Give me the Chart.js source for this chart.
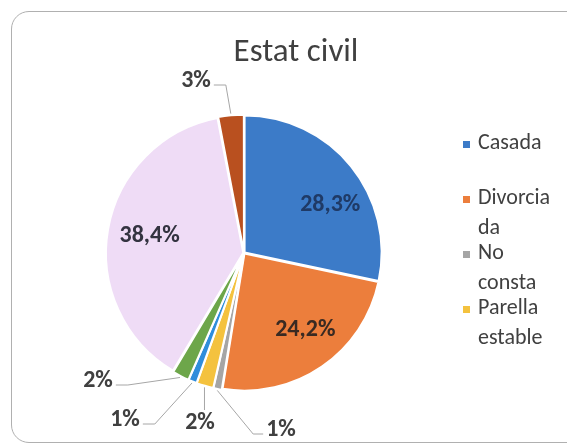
<!DOCTYPE html>
<html>
<head>
<meta charset="utf-8">
<title>Estat civil</title>
<script src="https://cdn.jsdelivr.net/npm/chart.js@4.4.1/dist/chart.umd.min.js"></script>
<style>
    html, body { margin: 0; padding: 0; background: #fff; }
    body { width: 567px; height: 447px; position: relative; overflow: hidden; font-family: Carlito, Calibri, Lato, sans-serif; color: #404040; }
    #frame { position: absolute; left: 11px; top: 11px; width: 580px; height: 432px; border: 1.5px solid #b0b0b0; border-radius: 18px; box-sizing: border-box; }
    #chart { position: absolute; left: 0; top: 0; }
    #title { position: absolute; left: 196px; width: 200px; top: 31px; text-align: center; font-size: 33px; line-height: 38px; }
    #legend { position: absolute; left: 460px; top: 127px; width: 105px; }
    .item { position: relative; height: 55px; padding-left: 18px; }
    .item span.txt { display: block; width: 80px; font-size: 22px; line-height: 30px; overflow-wrap: anywhere; }
    .item i { position: absolute; left: 3px; top: 14px; width: 7px; height: 7px; }
</style>
</head>
<body>
<div id="frame"></div>
<canvas id="chart" width="567" height="447"></canvas>
<div id="title">Estat civil</div>
<div id="legend"></div>
<script>
// Estat civil - pie
const categories = ['Casada', 'Divorciada', 'No consta', 'Parella estable', 'Separada', 'Separada de fet', 'Soltera', 'Vídua'];
const values = [28.3, 24.2, 1, 2, 1, 2, 38.4, 3];
const colors = ['#3c7bc8', '#ec7e3c', '#a5a5a5', '#f4c23e', '#2f8ddb', '#6da64a', '#efdcf6', '#b9501f'];
const legendShown = 4; // legend box is cut after 4 entries

// label placement: inside ones follow the slice (radius share, angle nudge in deg), outside ones have a spot
const labelSpots = [
    { r: 0.72, turn: 10 },
    { r: 0.72, turn: -4 },
    { x: 281, y: 430 },
    { x: 200, y: 423 },
    { x: 125, y: 420 },
    { x: 98, y: 381 },
    { r: 0.7, turn: 0 },
    { x: 196, y: 81 }
];
const insideColors = ['#1f3a66', '#3a2a22', '#333340'];

function pct(v) {
    return Number.isInteger(v) ? v + '%' : v.toFixed(1).replace('.', ',') + '%';
}

const sliceLabels = {
    id: 'sliceLabels',
    afterDatasetsDraw(chart) {
        const ctx = chart.ctx;
        const meta = chart.getDatasetMeta(0);
        let inside = 0;
        ctx.save();
        ctx.font = 'bold 24px Carlito, Calibri, Lato, sans-serif';
        ctx.textAlign = 'center';
        ctx.textBaseline = 'middle';
        meta.data.forEach((arc, i) => {
            const p = arc.getProps(['x', 'y', 'startAngle', 'endAngle', 'outerRadius'], true);
            const mid = (p.startAngle + p.endAngle) / 2;
            const off = arc.options.offset || 0;
            const txt = pct(values[i]);
            const spot = labelSpots[i];
            if (spot.r) {
                const r = p.outerRadius * spot.r;
                const a = mid + spot.turn * Math.PI / 180;
                ctx.fillStyle = insideColors[inside++ % insideColors.length];
                ctx.fillText(txt, p.x + Math.cos(a) * r, p.y + Math.sin(a) * r);
                return;
            }
            const ax = p.x + Math.cos(mid) * (p.outerRadius + off);
            const ay = p.y + Math.sin(mid) * (p.outerRadius + off);
            const w = ctx.measureText(txt).width;
            const left = spot.x - w / 2 - 3, right = spot.x + w / 2 + 3;
            ctx.strokeStyle = '#a6a6a6';
            ctx.lineWidth = 1;
            ctx.beginPath();
            if (ax < left) {
                ctx.moveTo(left, spot.y + 4);
                ctx.lineTo(left - 10, spot.y + 4);
            } else if (ax > right) {
                ctx.moveTo(right, spot.y + 4);
                ctx.lineTo(right + 12, spot.y + 4);
            } else {
                ctx.moveTo(ax, spot.y - 13);
            }
            ctx.lineTo(ax, ay);
            ctx.stroke();
            ctx.fillStyle = '#404040';
            ctx.fillText(txt, spot.x, spot.y);
        });
        ctx.restore();
    }
};

new Chart(document.getElementById('chart').getContext('2d'), {
    type: 'pie',
    data: {
        labels: categories,
        datasets: [{ data: values, backgroundColor: colors, borderColor: '#ffffff', borderWidth: 2, offset: 3 }]
    },
    options: {
        responsive: false,
        animation: false,
        radius: 137,
        layout: { padding: { left: 94, right: 173, top: 103, bottom: 44 } },
        plugins: { legend: { display: false }, title: { display: false }, tooltip: { enabled: false } }
    },
    plugins: [sliceLabels]
});

// legend (only the visible part)
const legendEl = document.getElementById('legend');
legendEl.innerHTML = categories.slice(0, legendShown).map((c, i) =>
    `<div class="item"><i style="background:${colors[i]}"></i><span class="txt">${c}</span></div>`
).join('');
</script>
</body>
</html>
